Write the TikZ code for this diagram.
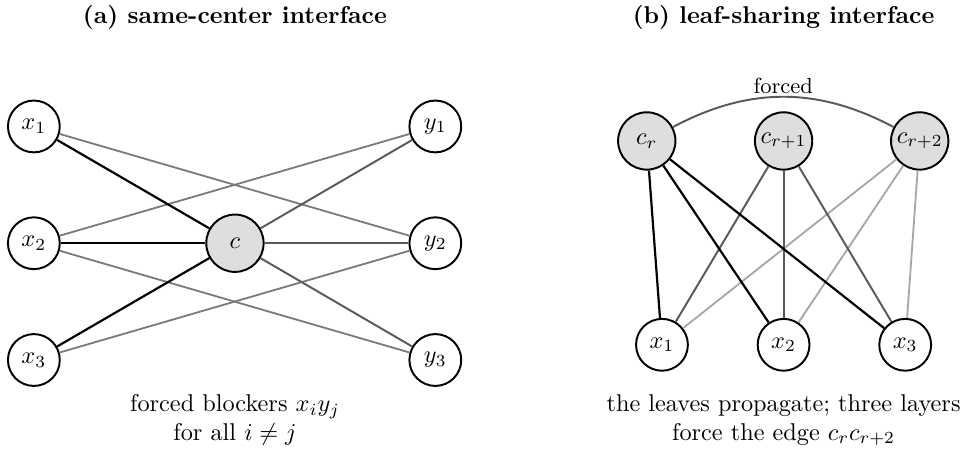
\documentclass[tikz,border=0pt]{standalone}
\usepackage{amsmath}
\usetikzlibrary{positioning}
\definecolor{edgedark}{gray}{0.35}
\definecolor{edgemid}{gray}{0.48}
\definecolor{edgelight}{gray}{0.65}
\definecolor{centerfill}{gray}{0.87}

\begin{document}
\begin{tikzpicture}[leaf/.style={draw, circle, thick, fill=white, minimum size=0.75cm, inner sep=0.5pt},
    hub/.style={leaf, fill=centerfill, minimum size=0.83cm},
    tie/.style={line width=0.9pt, black},
    cross/.style={line width=0.75pt, edgemid},
    spoke/.style={line width=0.8pt, edgedark},
    faint/.style={line width=0.75pt, edgelight}]
    \useasboundingbox (0,0) rectangle (13.98,-6.585);
    % (a) same-center interface
    \node (ta) at (3.40,-0.25) {\textbf{(a) same-center interface}};
    \node (c) [hub] at (3.40,-3.52) {$c$};
    \node (x1) [leaf] at (0.49,-1.83) {$x_1$};
    \node (x2) [leaf] at (0.49,-3.52) {$x_2$};
    \node (x3) [leaf] at (0.49,-5.21) {$x_3$};
    \node (y1) [leaf] at (6.30,-1.83) {$y_1$};
    \node (y2) [leaf] at (6.30,-3.52) {$y_2$};
    \node (y3) [leaf] at (6.30,-5.21) {$y_3$};
    \draw[cross] (x1) -- (y2);
    \draw[cross] (x2) -- (y1);
    \draw[cross] (x2) -- (y3);
    \draw[cross] (x3) -- (y2);
    \draw[tie] (x1) -- (c);
    \draw[tie] (x2) -- (c);
    \draw[tie] (x3) -- (c);
    \draw[spoke] (c) -- (y1);
    \draw[spoke] (c) -- (y2);
    \draw[spoke] (c) -- (y3);
    \node (capa) [align=center] at (3.40,-6.08) {forced blockers $x_iy_j$\\for all $i \neq j$};
    % (b) leaf-sharing interface
    \node (tb) at (11.34,-0.25) {\textbf{(b) leaf-sharing interface}};
    \node (cr) [hub] at (9.36,-2.04) {$c_r$};
    \node (cr1) [hub] at (11.34,-2.04) {$c_{r+1}$};
    \node (cr2) [hub] at (13.31,-2.04) {$c_{r+2}$};
    \node (l1) [leaf] at (9.58,-4.99) {$x_1$};
    \node (l2) [leaf] at (11.34,-4.99) {$x_2$};
    \node (l3) [leaf] at (13.10,-4.99) {$x_3$};
    \draw[faint] (cr2) -- (l1);
    \draw[faint] (cr2) -- (l2);
    \draw[faint] (cr2) -- (l3);
    \draw[spoke] (cr1) -- (l1);
    \draw[spoke] (cr1) -- (l2);
    \draw[spoke] (cr1) -- (l3);
    \draw[tie] (cr) -- (l1);
    \draw[tie] (cr) -- (l2);
    \draw[tie] (cr) -- (l3);
    \draw[spoke] (cr) to[bend left=28] node[above, inner sep=1pt, text=black] {\small forced} (cr2);
    \node (capb) [align=center] at (11.34,-6.08) {the leaves propagate; three layers\\force the edge $c_rc_{r+2}$};
\end{tikzpicture}
\end{document}
